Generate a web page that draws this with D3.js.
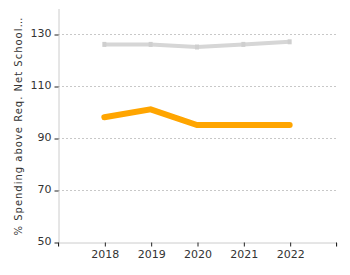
<!DOCTYPE html>
<html>
<head>
<meta charset="utf-8">
<script src="https://cdn.jsdelivr.net/npm/d3@7"></script>
<style>
  body { margin: 0; background: #fff; }
  #chart { width: 350px; height: 275px; }
</style>
</head>
<body>
<div id="chart"></div>
<script>
const years = [2018, 2019, 2020, 2021, 2022];
const greySeries = [126, 126, 125, 126, 127];
const orangeSeries = [98, 101, 95, 95, 95];
const yTicks = [50, 70, 90, 110, 130];
const yLabel = '% Spending above Req. Net School\u2026';

const fontFamily = "Verdana, 'DejaVu Sans', sans-serif";
const margin = { top: 8, right: 14, bottom: 33, left: 58 };
const width = 350 - margin.left - margin.right;
const height = 275 - margin.top - margin.bottom;

const x = d3.scaleLinear().domain([2017, 2023]).range([0, width]);
const y = d3.scaleLinear().domain([50, 140]).range([height, 0]);

const svg = d3.select('#chart')
    .append('svg')
    .attr('width', 350)
    .attr('height', 275)
    .append('g')
    .attr('transform', `translate(${margin.left},${margin.top})`);

// dotted gridlines
svg.selectAll('.grid')
    .data(yTicks.filter(t => t > 50))
    .enter()
    .append('line')
    .attr('x1', 0)
    .attr('x2', width)
    .attr('y1', d => y(d) + 0.5)
    .attr('y2', d => y(d) + 0.5)
    .style('stroke', '#c8c8c8')
    .style('stroke-dasharray', '2,2');

// y axis
const yAxis = svg.append('g')
    .attr('transform', 'translate(0.5,0.5)')
    .call(d3.axisLeft(y).tickValues(yTicks).tickSize(4).tickSizeOuter(0));
yAxis.select('.domain').style('stroke', '#cccccc');
yAxis.selectAll('.tick line').style('stroke', '#222');
yAxis.selectAll('text')
    .style('font-size', '11px')
    .style('font-family', fontFamily)
    .style('fill', '#333')
    .attr('dy', '0.2em');

// x axis
const xAxis = svg.append('g')
    .attr('transform', `translate(0.5,${height + 0.5})`)
    .call(d3.axisBottom(x).tickValues(years).tickFormat(d3.format('d')).tickSize(4).tickSizeOuter(4));
xAxis.select('.domain').style('stroke', '#cccccc');
xAxis.selectAll('.tick line').style('stroke', '#222');
xAxis.selectAll('text')
    .style('font-size', '11px')
    .style('font-family', fontFamily)
    .style('fill', '#333')
    .attr('y', 8);

// outer ticks at axis ends
xAxis.selectAll('.end-tick')
    .data([2017, 2023])
    .enter()
    .append('line')
    .attr('x1', d => x(d))
    .attr('x2', d => x(d))
    .attr('y1', 0)
    .attr('y2', 4)
    .style('stroke', '#222');

svg.append('text')
    .attr('transform', 'rotate(-90)')
    .attr('x', -118)
    .attr('y', -36)
    .style('text-anchor', 'middle')
    .style('font-size', '10px')
    .style('letter-spacing', '1px')
    .style('font-family', fontFamily)
    .style('fill', '#333')
    .text(yLabel);

const line = d3.line()
    .x((d, i) => x(years[i]))
    .y(d => y(d));

svg.append('path')
    .datum(greySeries)
    .attr('d', line)
    .style('fill', 'none')
    .style('stroke', '#d6d6d6')
    .style('stroke-width', 4);

svg.selectAll('.grey-pt')
    .data(greySeries)
    .enter()
    .append('rect')
    .attr('x', (d, i) => x(years[i]) - 2)
    .attr('y', d => y(d) - 2.5)
    .attr('width', 4)
    .attr('height', 5)
    .style('fill', '#cfcfcf');

svg.append('path')
    .datum(orangeSeries)
    .attr('d', line)
    .style('fill', 'none')
    .style('stroke', '#ffa500')
    .style('stroke-width', 6)
    .style('stroke-linecap', 'round');
</script>
</body>
</html>
